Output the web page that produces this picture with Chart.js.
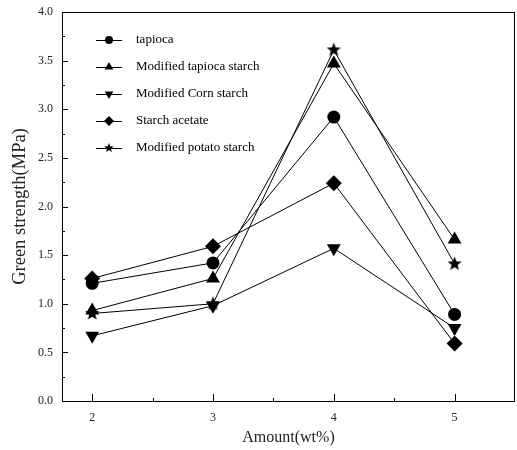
<!DOCTYPE html>
<html>
<head>
<meta charset="utf-8">
<script src="https://cdn.jsdelivr.net/npm/chart.js@4"></script>
<style>
  html, body { margin: 0; padding: 0; background: #fff; overflow: hidden; }
  canvas { display: block; }
</style>
</head>
<body>
<canvas id="chart" width="517" height="450"></canvas>
<script>
const amounts = [2, 3, 4, 5];
const seriesNames = ["tapioca", "Modified tapioca starch", "Modified Corn starch", "Starch acetate", "Modified potato starch"];
const tapioca = [1.21, 1.42, 2.92, 0.89];
const modTapioca = [0.93, 1.26, 3.47, 1.66];
const modCorn = [0.67, 0.98, 1.57, 0.75];
const acetate = [1.26, 1.59, 2.24, 0.59];
const modPotato = [0.90, 1.00, 3.61, 1.41];
const yTicks = [0, 0.5, 1, 1.5, 2, 2.5, 3, 3.5, 4];

const FONT = "'Liberation Serif', 'Times New Roman', serif";

// markers never sit on the frame here, so no extra room is needed for them
Chart.LineController.prototype.getMaxOverflow = function () { return 0; };

function starImage(r) {
  const c = document.createElement('canvas');
  c.width = c.height = r * 2 + 2;
  const g = c.getContext('2d');
  g.translate(r + 1, r + 1);
  g.beginPath();
  for (let i = 0; i < 10; i++) {
    const rad = i % 2 === 0 ? r : r * 0.42;
    const a = -Math.PI / 2 + i * Math.PI / 5;
    g.lineTo(rad * Math.cos(a), rad * Math.sin(a));
  }
  g.closePath();
  g.fillStyle = '#000';
  g.fill();
  return c;
}

const styles = [
  { pointStyle: 'circle', rot: 0, r: 6.5 },
  { pointStyle: 'triangle', rot: 0, r: 8 },
  { pointStyle: 'triangle', rot: 180, r: 8 },
  { pointStyle: 'rectRot', rot: 0, r: 8 },
  { pointStyle: starImage(7.5), rot: 0, r: 7.5 }
];
const legendStyles = [
  { pointStyle: 'circle', rot: 0, r: 4 },
  { pointStyle: 'triangle', rot: 0, r: 5 },
  { pointStyle: 'triangle', rot: 180, r: 5 },
  { pointStyle: 'rectRot', rot: 0, r: 5 },
  { pointStyle: starImage(5), rot: 0, r: 5 }
];

const allValues = [tapioca, modTapioca, modCorn, acetate, modPotato];

const datasets = allValues.map((vals, i) => ({
  label: seriesNames[i],
  data: amounts.map((x, j) => ({ x: x, y: vals[j] })),
  borderColor: '#000',
  backgroundColor: '#000',
  borderWidth: 1,
  pointStyle: styles[i].pointStyle,
  pointRotation: styles[i].rot,
  pointRadius: styles[i].r,
  pointHoverRadius: styles[i].r,
  pointBorderWidth: 0,
  tension: 0
}));

// frame, inward ticks and the inset legend
const framePlugin = {
  id: 'frame',
  afterDraw(chart) {
    const ctx = chart.ctx;
    const a = chart.chartArea;
    const xs = chart.scales.x, ys = chart.scales.y;
    ctx.save();
    ctx.strokeStyle = '#000';
    ctx.lineWidth = 1;
    ctx.strokeRect(Math.round(a.left) + 0.5, Math.round(a.top) + 0.5, Math.round(a.right - a.left) - 1, Math.round(a.bottom - a.top));
    ctx.beginPath();
    // y ticks
    for (let v = 0; v <= 4.0001; v += 0.25) {
      const y = Math.round(ys.getPixelForValue(v)) + 0.5;
      const major = Math.abs(v * 2 - Math.round(v * 2)) < 1e-6;
      ctx.moveTo(a.left, y);
      ctx.lineTo(a.left + (major ? 6 : 3), y);
    }
    // x ticks
    for (let v = 2; v <= 5.0001; v += 0.5) {
      const x = Math.round(xs.getPixelForValue(v)) + 0.5;
      const major = Math.abs(v - Math.round(v)) < 1e-6;
      ctx.moveTo(x, a.bottom);
      ctx.lineTo(x, a.bottom - (major ? 7 : 3));
    }
    ctx.stroke();

    // legend
    const lx = 96, ly = 40, step = 27;
    ctx.font = '13px ' + FONT;
    ctx.textBaseline = 'middle';
    ctx.fillStyle = '#000';
    seriesNames.forEach((name, i) => {
      const y = ly + i * step;
      ctx.beginPath();
      ctx.moveTo(lx, y + 0.5);
      ctx.lineTo(lx + 26, y + 0.5);
      ctx.stroke();
      const s = legendStyles[i];
      Chart.helpers.drawPoint(ctx, { pointStyle: s.pointStyle, rotation: s.rot, radius: s.r, borderWidth: 0 }, lx + 13, y);
      ctx.fillStyle = '#000';
      ctx.fillText(name, lx + 40, y);
    });
    ctx.restore();
  }
};

new Chart(document.getElementById('chart'), {
  type: 'line',
  data: { datasets: datasets },
  plugins: [framePlugin],
  options: {
    responsive: false,
    animation: false,
    layout: { padding: { top: 12, right: 2, left: 0, bottom: 0 } },
    plugins: { legend: { display: false }, tooltip: { enabled: false } },
    scales: {
      x: {
        type: 'linear',
        min: 1.75,
        max: 5.5,
        afterBuildTicks: s => { s.ticks = amounts.map(v => ({ value: v })); },
        afterFit: s => { s.height = 49; },
        grid: { display: false, drawTicks: false },
        border: { display: false },
        ticks: { color: '#222', font: { family: FONT, size: 12 }, padding: 10, maxRotation: 0 },
        title: { display: true, text: 'Amount(wt%)', color: '#222', font: { family: FONT, size: 16 }, padding: { top: 0, bottom: 3 } }
      },
      y: {
        min: 0,
        max: 4,
        afterBuildTicks: s => { s.ticks = yTicks.map(v => ({ value: v })); },
        afterFit: s => { s.width = 62; s.paddingTop = 7; s.paddingBottom = 7; },
        grid: { display: false, drawTicks: false },
        border: { display: false },
        ticks: { color: '#222', font: { family: FONT, size: 12 }, padding: 9, callback: v => v.toFixed(1) },
        title: { display: true, text: 'Green strength(MPa)', color: '#222', font: { family: FONT, size: 18.5 }, padding: { top: 9, bottom: 4 } }
      }
    }
  }
});
</script>
</body>
</html>
